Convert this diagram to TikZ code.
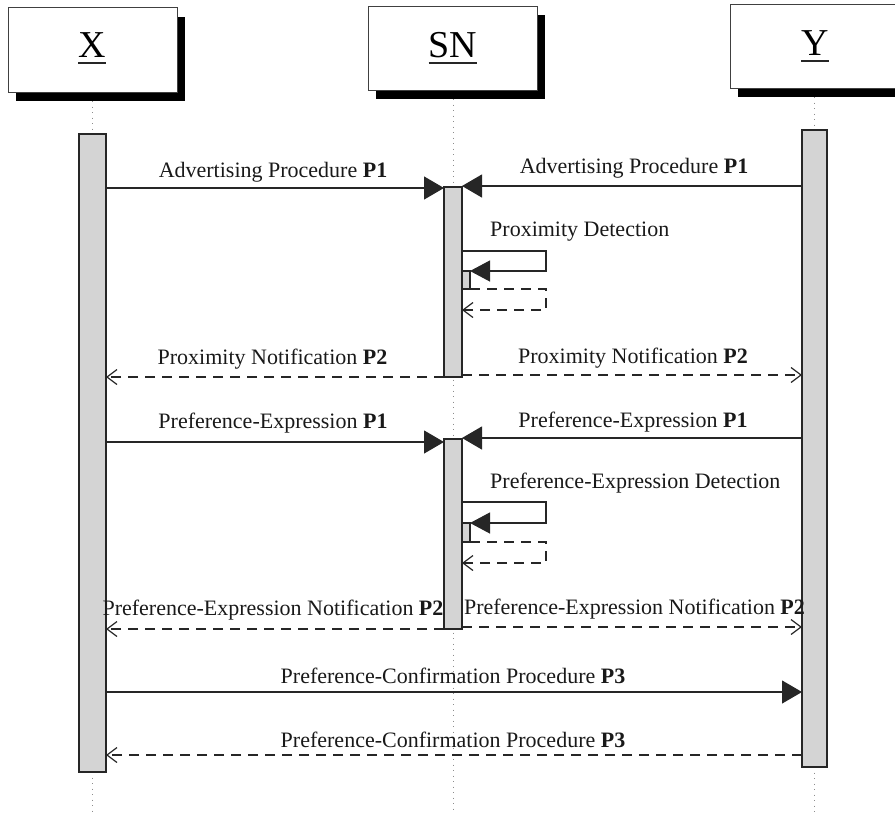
\documentclass[tikz,border=0pt]{standalone}
\usepackage{fontspec}
\setmainfont{Liberation Serif}
\usetikzlibrary{arrows.meta}
\begin{document}
\begin{tikzpicture}[x=1pt,y=-1pt,
  lbl/.style={font=\fontsize{22}{26}\selectfont, inner sep=0, anchor=base, text=black!90},
  hdr/.style={font=\fontsize{38}{44}\selectfont, inner sep=0, anchor=base},
  headbox/.style={draw=black!75, fill=white, line width=0.9pt},
  shadowbox/.style={fill=black},
  bar/.style={draw=black!85, fill=black!17, line width=1.2pt},
  life/.style={draw=black!45, line width=1pt, dash pattern=on 1pt off 4.5pt},
  msg/.style={draw=black!85, line width=1.2pt, -{Triangle[length=20pt,width=23pt]}},
  selfmsg/.style={draw=black!85, line width=1.2pt, -{Triangle[length=20pt,width=21pt]}},
  ret/.style={draw=black!85, line width=1.2pt, dash pattern=on 10pt off 7pt, -{Straight Barb[length=10pt,width=15pt]}},
  selfret/.style={draw=black!85, line width=1.2pt, dash pattern=on 10pt off 7pt, -{Straight Barb[length=10pt,width=15pt]}}
]
\useasboundingbox (0,0) rectangle (895,814);

% header boxes
\fill[shadowbox] (16,17) rectangle (185,101);
\draw[headbox] (8,7) rectangle (177,92);
\fill[shadowbox] (376,15) rectangle (545,99);
\draw[headbox] (368,6) rectangle (537,90);
\fill[shadowbox] (738,13) rectangle (908,97);
\draw[headbox] (730,4) rectangle (900,88);

\node[hdr] (X) at (92,57) {X};
\node[hdr] (SN) at (453,57) {SN};
\node[hdr] (Y) at (815,55) {Y};
\foreach \n in {X,SN,Y}{
  \draw[line width=1.4pt, black!85] ([yshift=-6pt]\n.base west) -- ([yshift=-6pt]\n.base east);
}

% lifelines
\draw[life] (92,101) -- (92,134);
\draw[life] (92,772) -- (92,814);
\draw[life] (453,99) -- (453,814);
\draw[life] (814.5,97) -- (814.5,130);
\draw[life] (814.5,767) -- (814.5,814);

% activation bars
\draw[bar] (79,134) rectangle (106,772);
\draw[bar] (802,130) rectangle (827,767);
\draw[bar] (444,187) rectangle (462,377);
\draw[bar] (444,439) rectangle (462,629);
\draw[bar] (462,271) rectangle (470,289);
\draw[bar] (462,523) rectangle (470,542);

% endpoint coordinates
\coordinate (x1) at (106,188);  \coordinate (s1) at (444,188);
\coordinate (y2) at (802,186);  \coordinate (s2) at (462,186);
\coordinate (s4) at (444,377);  \coordinate (x4) at (106,377);
\coordinate (s5) at (462,375);  \coordinate (y5) at (802,375);
\coordinate (x6) at (106,442);  \coordinate (s6) at (444,442);
\coordinate (y7) at (802,438);  \coordinate (s7) at (462,438);
\coordinate (s9) at (444,629);  \coordinate (x9) at (106,629);
\coordinate (s10) at (462,627); \coordinate (y10) at (802,627);
\coordinate (x11) at (106,692); \coordinate (y11) at (802,692);
\coordinate (y12) at (802,755); \coordinate (x12) at (106,755);

% messages
\draw[msg] (x1) -- (s1);
\draw[msg] (y2) -- (s2);
\draw[ret] (s4) -- (x4);
\draw[ret] (s5) -- (y5);
\draw[msg] (x6) -- (s6);
\draw[msg] (y7) -- (s7);
\draw[ret] (s9) -- (x9);
\draw[ret] (s10) -- (y10);
\draw[msg] (x11) -- (y11);
\draw[ret] (y12) -- (x12);

% self messages
\coordinate (a1) at (462,251); \coordinate (a2) at (470,271);
\coordinate (a3) at (470,289); \coordinate (a4) at (462,310);
\draw[selfmsg] (a1) -- (546,251) -- (546,271) -- (a2);
\draw[selfret] (a3) -- (546,289) -- (546,310) -- (a4);
\coordinate (b1) at (462,502); \coordinate (b2) at (470,523);
\coordinate (b3) at (470,542); \coordinate (b4) at (462,563);
\draw[selfmsg] (b1) -- (546,502) -- (546,523) -- (b2);
\draw[selfret] (b3) -- (546,542) -- (546,563) -- (b4);

% labels
\node[lbl] (l1) at (273,177) {Advertising Procedure \textbf{P1}};
\node[lbl] (l2) at (634,173) {Advertising Procedure \textbf{P1}};
\node[lbl, anchor=base west] (l3) at (490,236) {Proximity Detection};
\node[lbl] (l4) at (272.5,364) {Proximity Notification \textbf{P2}};
\node[lbl] (l5) at (633,363) {Proximity Notification \textbf{P2}};
\node[lbl] (l6) at (273,428) {Preference-Expression \textbf{P1}};
\node[lbl] (l7) at (633,427) {Preference-Expression \textbf{P1}};
\node[lbl, anchor=base west] (l8) at (490,488) {Preference-Expression Detection};
\node[lbl] (l9) at (273,615) {Preference-Expression Notification \textbf{P2}};
\node[lbl] (l10) at (634.5,614) {Preference-Expression Notification \textbf{P2}};
\node[lbl] (l11) at (453,683) {Preference-Confirmation Procedure \textbf{P3}};
\node[lbl] (l12) at (453,747) {Preference-Confirmation Procedure \textbf{P3}};
\end{tikzpicture}
\end{document}
